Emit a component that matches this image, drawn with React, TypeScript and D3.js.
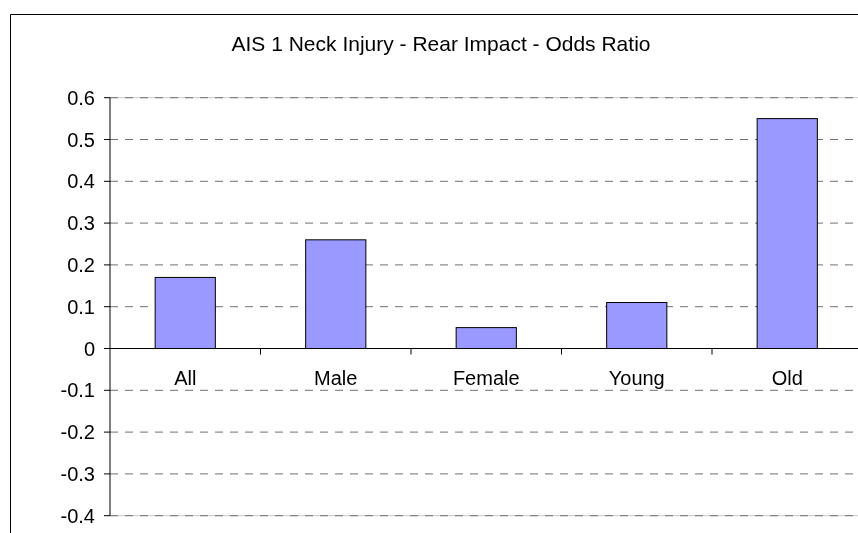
import * as d3 from "d3";

const categories = ["All", "Male", "Female", "Young", "Old"];
const oddsRatio = [0.17, 0.26, 0.05, 0.11, 0.55];
const yTicks = [0.6, 0.5, 0.4, 0.3, 0.2, 0.1, 0, -0.1, -0.2, -0.3, -0.4];
const title = "AIS 1 Neck Injury - Rear Impact - Odds Ratio";

const W = 858;
const H = 533;
const PLOT = { left: 110, right: 862.5, top: 97.7, bottom: 515.7 };
const FONT = "'Liberation Sans', Arial, sans-serif";

// excel style labels: plain hyphen, no trailing zeros on 0
const fmt = (t: number) => (t === 0 ? "0" : t.toFixed(1));

export default function App() {
  const y = d3.scaleLinear().domain([-0.4, 0.6]).range([PLOT.bottom, PLOT.top]);
  const x = d3.scaleBand().domain(categories).range([PLOT.left, PLOT.right]).padding(0);
  const barW = x.bandwidth() * 0.4;
  const zeroY = y(0);

  return (
    <>
      <style>{"html,body{margin:0;padding:0;overflow:hidden;background:#fff}"}</style>
      <svg
        width={W}
        height={H}
        viewBox={`0 0 ${W} ${H}`}
        style={{ position: "fixed", left: 0, top: 0, display: "block" }}
        fontFamily={FONT}
      >
        {/* chart frame: only left and top edges fall inside the picture */}
        <path d={`M10.5,${H + 5}V14.5H${W + 5}`} fill="none" stroke="#000" strokeWidth={1} />

        <text x={441} y={51} textAnchor="middle" fontSize={21}>
          {title}
        </text>

        {/* gridlines */}
        {yTicks
          .filter((t) => t !== 0)
          .map((t, i) => {
            const edge = t === 0.6 || t === -0.4;
            return (
              <g key={i}>
                {edge && (
                  <line x1={PLOT.left} x2={PLOT.right} y1={y(t)} y2={y(t)} stroke="#c8c8c8" strokeWidth={1} />
                )}
                <line
                  x1={PLOT.left}
                  x2={PLOT.right}
                  y1={y(t)}
                  y2={y(t)}
                  stroke="#707070"
                  strokeWidth={1}
                  strokeDasharray="8,7"
                />
              </g>
            );
          })}

        {/* bars */}
        {categories.map((c, i) => {
          const v = oddsRatio[i];
          const cx = (x(c) as number) + x.bandwidth() / 2;
          return (
            <rect
              key={c}
              x={cx - barW / 2}
              y={y(Math.max(0, v))}
              width={barW}
              height={Math.abs(y(v) - zeroY)}
              fill="#9999ff"
              stroke="#000"
              strokeWidth={1}
            />
          );
        })}

        {/* y axis */}
        <line x1={PLOT.left} x2={PLOT.left} y1={PLOT.top} y2={PLOT.bottom} stroke="#000" />
        {yTicks.map((t, i) => (
          <g key={i}>
            <line x1={PLOT.left - 6} x2={PLOT.left} y1={y(t)} y2={y(t)} stroke="#000" />
            <text x={95} y={y(t) + 7} textAnchor="end" fontSize={20}>
              {fmt(t)}
            </text>
          </g>
        ))}

        {/* x axis at zero */}
        <line x1={PLOT.left} x2={PLOT.right} y1={zeroY} y2={zeroY} stroke="#000" />
        {categories.slice(1).map((c) => (
          <line key={c} x1={x(c)} x2={x(c)} y1={zeroY} y2={zeroY + 6} stroke="#000" />
        ))}
        {categories.map((c) => (
          <text
            key={c}
            x={(x(c) as number) + x.bandwidth() / 2}
            y={zeroY + 36.5}
            textAnchor="middle"
            fontSize={20}
          >
            {c}
          </text>
        ))}
      </svg>
    </>
  );
}
